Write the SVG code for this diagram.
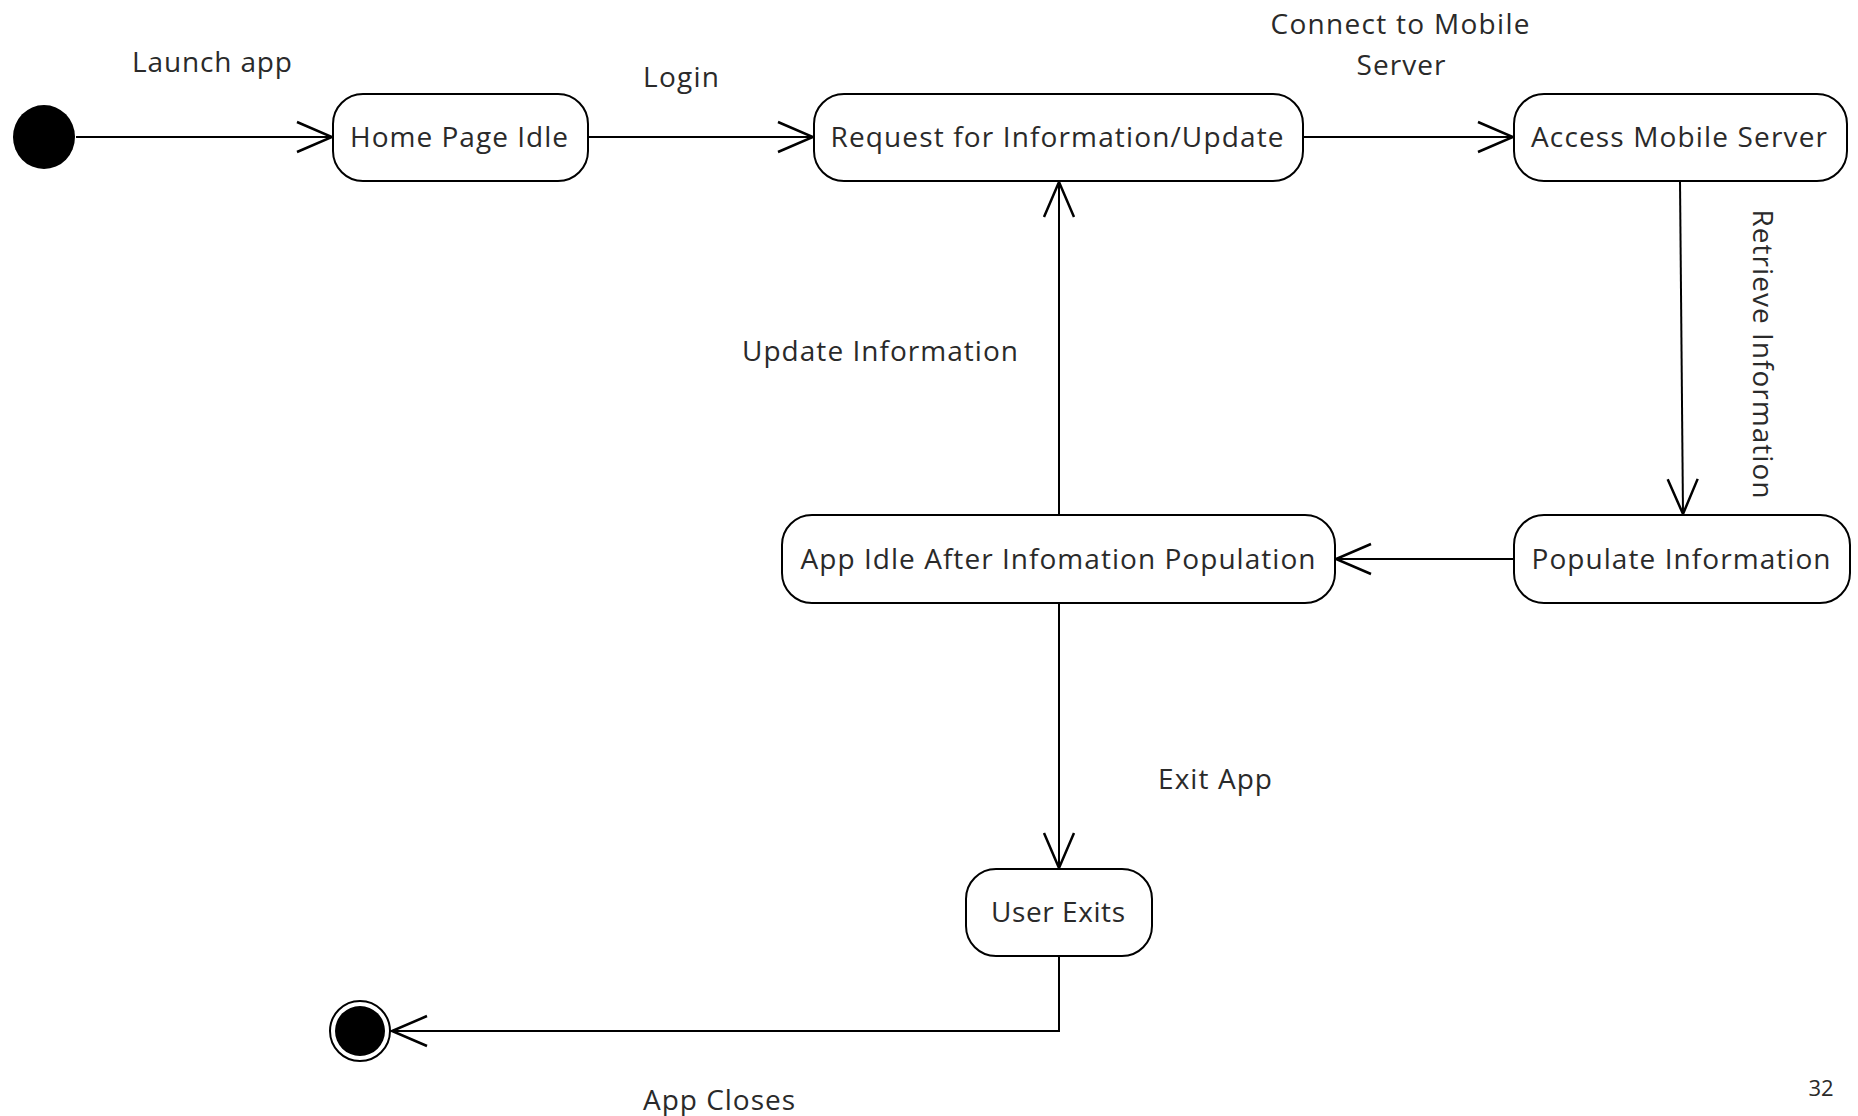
<svg xmlns="http://www.w3.org/2000/svg" width="1858" height="1116" viewBox="0 0 1858 1116">
<style>
.node rect{fill:#fff;stroke:#000;stroke-width:2}
text{font-family:"Open Sans","Liberation Sans",sans-serif;font-size:28px;fill:#2a2a2a}
.c{text-anchor:middle}
.edge{fill:none;stroke:#000;stroke-width:2}
.pg{font-size:22px}
</style>
<defs>
<marker id="arr" markerUnits="userSpaceOnUse" markerWidth="40" markerHeight="40" viewBox="-30 -15 32 30" refX="0" refY="0" orient="auto">
<path d="M-28,-12 L0,0 L-28,12" fill="none" stroke="#000" stroke-width="2"/>
</marker>
</defs>
<rect width="1858" height="1116" fill="#fff"/>
<g id="connectors">
<line class="edge" x1="76" y1="137" x2="332" y2="137" marker-end="url(#arr)"/>
<line class="edge" x1="588" y1="137" x2="813" y2="137" marker-end="url(#arr)"/>
<line class="edge" x1="1303" y1="137" x2="1513" y2="137" marker-end="url(#arr)"/>
<line class="edge" x1="1680" y1="181" x2="1683" y2="514" marker-end="url(#arr)"/>
<line class="edge" x1="1514" y1="559" x2="1336" y2="559" marker-end="url(#arr)"/>
<line class="edge" x1="1059" y1="515" x2="1059" y2="182" marker-end="url(#arr)"/>
<line class="edge" x1="1059" y1="603" x2="1059" y2="868" marker-end="url(#arr)"/>
<polyline class="edge" points="1059,956 1059,1031 392,1031" marker-end="url(#arr)"/>
<text x="212" y="72" class="c" textLength="160" lengthAdjust="spacing">Launch app</text>
<text x="681" y="87" class="c" textLength="76" lengthAdjust="spacing">Login</text>
<text x="1400" y="34" class="c" textLength="259" lengthAdjust="spacing">Connect to Mobile</text>
<text x="1401" y="75" class="c" textLength="89" lengthAdjust="spacing">Server</text>
<text transform="translate(1753,354) rotate(90)" class="c" textLength="289" lengthAdjust="spacing">Retrieve Information</text>
<text x="880" y="361" class="c" textLength="276" lengthAdjust="spacing">Update Information</text>
<text x="1215" y="789" class="c" textLength="114" lengthAdjust="spacing">Exit App</text>
<text x="719" y="1110" class="c" textLength="152" lengthAdjust="spacing">App Closes</text>
</g>
<g id="start"><ellipse cx="44" cy="137" rx="31" ry="32" fill="#000"/></g>
<g id="home" class="node"><rect x="333" y="94" width="255" height="87" rx="30"/><text x="459" y="147" class="c" textLength="218" lengthAdjust="spacing">Home Page Idle</text></g>
<g id="request" class="node"><rect x="814" y="94" width="489" height="87" rx="30"/><text x="1057" y="147" class="c" textLength="453" lengthAdjust="spacing">Request for Information/Update</text></g>
<g id="access" class="node"><rect x="1514" y="94" width="333" height="87" rx="30"/><text x="1679" y="147" class="c" textLength="296" lengthAdjust="spacing">Access Mobile Server</text></g>
<g id="appidle" class="node"><rect x="782" y="515" width="553" height="88" rx="30"/><text x="1058" y="569" class="c" textLength="515" lengthAdjust="spacing">App Idle After Infomation Population</text></g>
<g id="populate" class="node"><rect x="1514" y="515" width="336" height="88" rx="30"/><text x="1681" y="569" class="c" textLength="299" lengthAdjust="spacing">Populate Information</text></g>
<g id="userexits" class="node"><rect x="966" y="869" width="186" height="87" rx="30"/><text x="1058" y="922" class="c" textLength="134" lengthAdjust="spacing">User Exits</text></g>
<g id="end"><circle cx="360" cy="1031" r="30" fill="#fff" stroke="#000" stroke-width="2"/><circle cx="360" cy="1031" r="25" fill="#000"/></g>
<text x="1821" y="1096" class="c pg">32</text>
</svg>
